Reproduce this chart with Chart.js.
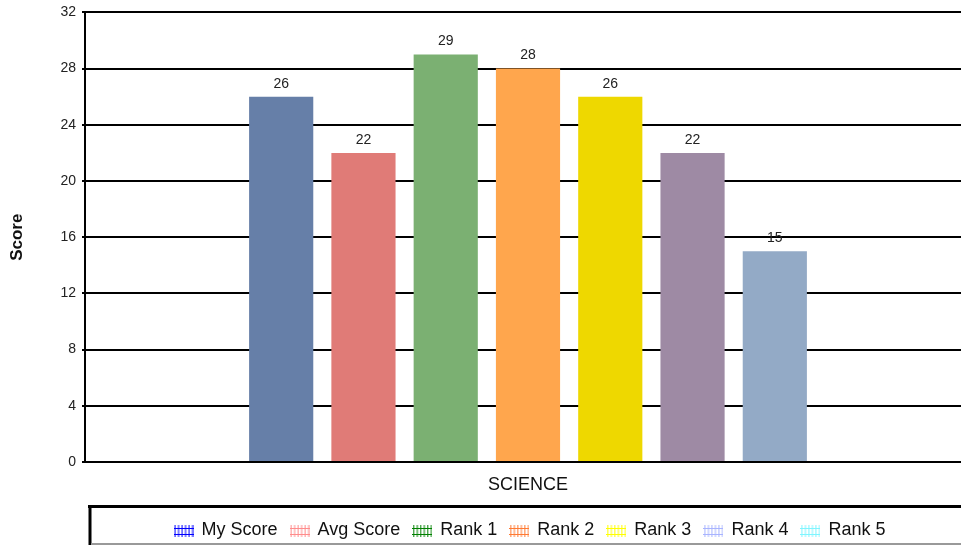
<!DOCTYPE html>
<html>
<head>
<meta charset="utf-8">
<script src="https://cdn.jsdelivr.net/npm/chart.js@4/dist/chart.umd.min.js"></script>
<style>
  html, body { margin: 0; padding: 0; background: #fff; overflow: hidden; }
  #wrap { width: 971px; height: 547px; margin-top: -2px; }
</style>
</head>
<body>
<div id="wrap"><canvas id="scoreChart"></canvas></div>
<script>
const categories = ['SCIENCE'];
const seriesNames = ['My Score', 'Avg Score', 'Rank 1', 'Rank 2', 'Rank 3', 'Rank 4', 'Rank 5'];
const seriesValues = [26, 22, 29, 28, 26, 22, 15];
const barColors = ['#667fa8', '#e07b77', '#7bb072', '#ffa64d', '#eed800', '#9e8aa4', '#93aac6'];
const legendColors = ['#0000ff', '#ff8c8c', '#008000', '#ff7a33', '#ffff00', '#a8b4ff', '#7ff5ff'];
const yTicks = [0, 4, 8, 12, 16, 20, 24, 28, 32];

// small hatched icon like the legend swatches
function hatchIcon(color) {
  const c = document.createElement('canvas');
  c.width = 20; c.height = 14;
  const g = c.getContext('2d');
  g.strokeStyle = color;
  g.lineWidth = 1;
  for (let x = 1.5; x < 20; x += 3.5) {
    g.beginPath(); g.moveTo(x, 2); g.lineTo(x, 14); g.stroke();
  }
  g.beginPath(); g.moveTo(0, 5.5); g.lineTo(20, 5.5); g.stroke();
  g.beginPath(); g.moveTo(0, 11.5); g.lineTo(20, 11.5); g.stroke();
  return c;
}

const valueLabels = {
  id: 'valueLabels',
  afterDatasetsDraw(chart) {
    const ctx = chart.ctx;
    ctx.save();
    ctx.font = '14px Arial, "Liberation Sans", sans-serif';
    ctx.fillStyle = '#222';
    ctx.textAlign = 'center';
    ctx.textBaseline = 'bottom';
    chart.data.datasets.forEach((ds, i) => {
      const bar = chart.getDatasetMeta(i).data[0];
      ctx.fillText(ds.data[0], bar.x, bar.y - 6);
    });
    ctx.restore();
  }
};

// centre the legend under the plot and push it down a bit
const legendPlace = {
  id: 'legendPlace',
  afterLayout(chart) {
    const lg = chart.legend;
    lg.left = 89;
    lg.right = chart.width;
    lg.top += 4;
  }
};

const legendFrame = {
  id: 'legendFrame',
  afterDraw(chart) {
    const ctx = chart.ctx;
    ctx.save();
    ctx.strokeStyle = '#000';
    ctx.lineWidth = 3;
    ctx.beginPath();
    ctx.moveTo(88, 508.5);
    ctx.lineTo(chart.width, 508.5);
    ctx.moveTo(90, 507);
    ctx.lineTo(90, chart.height);
    ctx.stroke();
    ctx.strokeStyle = '#999';
    ctx.lineWidth = 2;
    ctx.beginPath();
    ctx.moveTo(91, 546);
    ctx.lineTo(chart.width, 546);
    ctx.stroke();
    ctx.restore();
  }
};

const datasets = seriesNames.map((name, i) => ({
  label: name,
  data: [seriesValues[i]],
  backgroundColor: barColors[i],
  borderWidth: 0,
  categoryPercentage: 0.65,
  barPercentage: 0.78
}));

new Chart(document.getElementById('scoreChart'), {
  type: 'bar',
  data: { labels: categories, datasets: datasets },
  options: {
    responsive: true,
    maintainAspectRatio: false,
    animation: false,
    layout: { padding: { top: 10, right: 0, bottom: 0, left: 0 } },
    plugins: {
      tooltip: { enabled: false },
      legend: {
        position: 'bottom',
        labels: {
          usePointStyle: true,
          font: { family: 'Arial, "Liberation Sans", sans-serif', size: 18 },
          color: '#111',
          padding: 13,
          generateLabels(chart) {
            return chart.data.datasets.map((ds, i) => ({
              text: ds.label,
              pointStyle: hatchIcon(legendColors[i]),
              fillStyle: legendColors[i],
              strokeStyle: legendColors[i],
              lineWidth: 0,
              datasetIndex: i,
              fontColor: '#111'
            }));
          }
        }
      }
    },
    scales: {
      x: {
        grid: { display: false },
        border: { color: '#000', width: 2 },
        ticks: {
          color: '#111',
          padding: 4,
          font: { family: 'Arial, "Liberation Sans", sans-serif', size: 18 }
        },
        afterFit(scale) { scale.height = 42; }
      },
      y: {
        min: 0,
        max: 32,
        afterBuildTicks(scale) { scale.ticks = yTicks.map(v => ({ value: v })); },
        grid: { color: '#000', lineWidth: 2, tickLength: 3 },
        border: { color: '#000', width: 2 },
        ticks: {
          color: '#222',
          padding: 6,
          font: { family: 'Arial, "Liberation Sans", sans-serif', size: 14 }
        },
        title: {
          display: true,
          text: 'Score',
          color: '#111',
          padding: { top: 7, bottom: 0 },
          font: { family: 'Arial, "Liberation Sans", sans-serif', size: 17, weight: 'bold' }
        },
        afterFit(scale) { scale.width = 85; }
      }
    }
  },
  plugins: [valueLabels, legendPlace, legendFrame]
});
</script>
</body>
</html>
